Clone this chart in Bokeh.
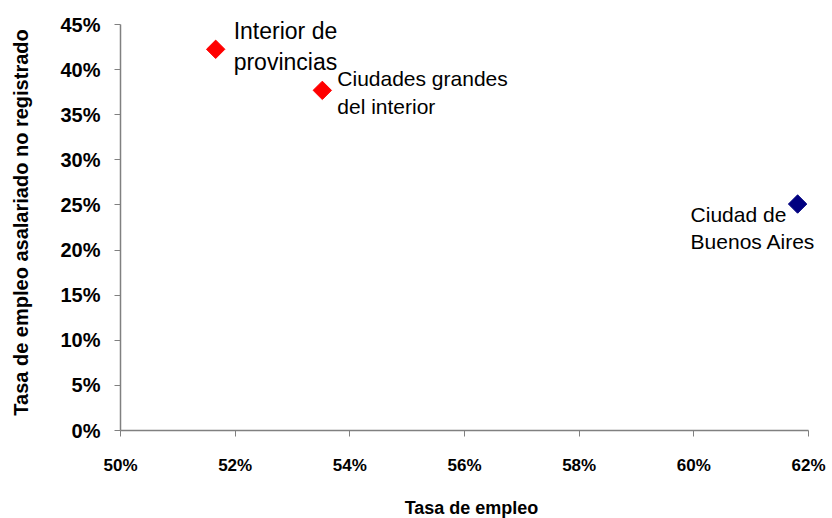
import math
from bokeh.plotting import figure
from bokeh.models import ColumnDataSource, NumeralTickFormatter, FixedTicker, Range1d, LabelSet
from bokeh.core.properties import value
from bokeh.embed import file_html
from bokeh.resources import INLINE

# Data
regions = ["Interior de\nprovincias", "Ciudades grandes\ndel interior", "Ciudad de\nBuenos Aires"]
tasa_empleo = [0.5166, 0.5352, 0.6181]
tasa_no_registrado = [0.4225, 0.3770, 0.2510]
colors = ["#FF0000", "#FF0000", "#000080"]
x_ticks = [0.50, 0.52, 0.54, 0.56, 0.58, 0.60, 0.62]
y_ticks = [0.0, 0.05, 0.10, 0.15, 0.20, 0.25, 0.30, 0.35, 0.40, 0.45]

# label layout (screen offsets, font sizes)
label_dx = [18, 15, -107]
label_dy = [3, -2, -24]
label_size = ["23px", "21px", "21px"]

# frame geometry: axis spans 688x406 px; frame is padded so labels are not clipped
AX_W, AX_H = 688, 406
PAD_R, PAD_T = 14, 10
x0, x1 = x_ticks[0], x_ticks[-1]
y0, y1 = y_ticks[0], y_ticks[-1]
x_end = x1 + (x1 - x0) * PAD_R / AX_W
y_end = y1 + (y1 - y0) * PAD_T / AX_H

src = ColumnDataSource(dict(x=tasa_empleo, y=tasa_no_registrado, c=colors,
                            t=regions, dx=label_dx, dy=label_dy, fs=label_size))

p = figure(output_backend="svg", toolbar_location=None,
           frame_width=AX_W + PAD_R, frame_height=AX_H + PAD_T,
           min_border_left=120, min_border_top=24 - PAD_T, min_border_right=8, min_border_bottom=80,
           x_range=Range1d(x0, x_end), y_range=Range1d(y0, y_end))
p.outline_line_color = None
p.grid.visible = False
p.background_fill_color = "white"
p.border_fill_color = "white"

p.scatter("x", "y", source=src, marker="square", angle=math.pi / 4, size=13,
          fill_color="c", line_color="c")

labels = LabelSet(x="x", y="y", text="t", source=src, x_offset="dx", y_offset="dy",
                  text_font=value("Liberation Sans"), text_font_size="fs",
                  text_baseline="middle", text_align="left", text_color="#000000",
                  text_line_height=1.2)
p.add_layout(labels)

for ax in (p.xaxis[0], p.yaxis[0]):
    ax.axis_line_color = "#808080"
    ax.axis_line_width = 1.5
    ax.major_tick_line_color = "#808080"
    ax.major_tick_in = 0
    ax.major_tick_out = 6
    ax.minor_tick_line_color = None
    ax.formatter = NumeralTickFormatter(format="0%")
    ax.major_label_text_font = "Liberation Sans"
    ax.axis_label_text_font = "Liberation Sans"
    ax.major_label_text_font_style = "bold"
    ax.axis_label_text_font_style = "bold"
    ax.major_label_text_color = "#000000"
    ax.axis_label_text_color = "#000000"

p.xaxis.ticker = FixedTicker(ticks=x_ticks)
p.yaxis.ticker = FixedTicker(ticks=y_ticks)
p.xaxis.bounds = (x0, x1)
p.yaxis.bounds = (y0, y1)

p.xaxis.axis_label = "Tasa de empleo"
p.xaxis.major_label_text_font_size = "17px"
p.xaxis.axis_label_text_font_size = "18px"
p.xaxis.major_label_standoff = 19
p.xaxis.axis_label_standoff = 20

p.yaxis.axis_label = "Tasa de empleo asalariado no registrado"
p.yaxis.major_label_text_font_size = "20px"
p.yaxis.axis_label_text_font_size = "20px"
p.yaxis.major_label_standoff = 14
p.yaxis.axis_label_standoff = 25

open("out.html", "w").write(file_html(p, INLINE))
